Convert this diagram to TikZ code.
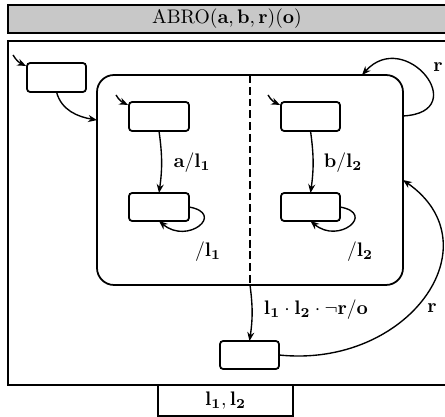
\documentclass[tikz,border=0pt]{standalone}
\usetikzlibrary{fit,arrows.meta}
\definecolor{titlegray}{RGB}{200,200,200}
\begin{document}
\begin{tikzpicture}[x=0.51pt,y=0.51pt,
  box/.style={draw, line width=0.9pt, inner sep=0pt, outer sep=0pt},
  st/.style={box, rounded corners=1.6pt},
  tr/.style={draw, line width=0.7pt, -{Stealth[length=4.5pt,width=3.6pt]}},
  lbl/.style={inner sep=0pt}]
\useasboundingbox (0,0) rectangle (445,417);
% frames
\node[box, fill=titlegray, fit={(8,384) (447,412)}] (title) {};
\node[lbl] (titletext) at (227,398) {$\mathrm{ABRO}(\mathbf{a},\mathbf{b},\mathbf{r})(\mathbf{o})$};
\node[box, fit={(8,32) (447,376)}] (frame) {};
\node[box, fit={(158,1) (293,32)}] (out) {};
\node[lbl] (outtext) at (out.center) {$\mathbf{l_1},\mathbf{l_2}$};
% states
\node[st, fit={(27,325) (86,354)}] (init) {};
\node[box, rounded corners=8.7pt, fit={(97,132) (403,342)}] (big) {};
\node[st, fit={(129,286) (189,315)}] (a1) {};
\node[st, fit={(129,196) (189,224)}] (a2) {};
\node[st, fit={(281,286) (340,315)}] (b1) {};
\node[st, fit={(281,196) (340,224)}] (b2) {};
\node[st, fit={(220,48) (279,76)}] (fin) {};
% dashed separator
\draw[line width=0.9pt, dash pattern=on 4pt off 2pt] (big.north) -- (big.south);
% initial arrows
\coordinate (i0) at (13,362);
\coordinate (ia) at (116,322);
\coordinate (ib) at (268,322);
\draw[tr] (i0) to[out=-60,in=155] ([xshift=-0.5pt,yshift=-1.5pt]init.north west);
\draw[tr] (ia) to[out=-60,in=155] ([xshift=-0.5pt,yshift=-1.5pt]a1.north west);
\draw[tr] (ib) to[out=-60,in=155] ([xshift=-0.5pt,yshift=-1.5pt]b1.north west);
% transitions
\draw[tr] (init.south) to[out=-75,in=170] ([yshift=-23pt]big.north west);
\draw[tr] (a1.south) to[bend left=8] (a2.north);
\draw[tr] (b1.south) to[bend left=8] (b2.north);
\draw[tr] (a2.east) to[out=-10,in=-40,looseness=2.9] (a2.south);
\draw[tr] (b2.east) to[out=-10,in=-40,looseness=2.9] (b2.south);
\draw[tr] (big.south) to[bend left=8] (fin.north);
\draw[tr] ([yshift=-20.9pt]big.north east) to[out=3,in=48,out distance=36pt,in distance=33pt] ([xshift=-20.9pt]big.north east);
\draw[tr] (fin.east) to[out=-6,in=-35,out distance=66pt,in distance=58pt] (big.east);
% labels
\node[lbl] (la) at (192,254) {$\mathbf{a}/\mathbf{l_1}$};
\node[lbl] (lb) at (343,254) {$\mathbf{b}/\mathbf{l_2}$};
\node[lbl] (la2) at (208,165) {$/\mathbf{l_1}$};
\node[lbl] (lb2) at (360,165) {$/\mathbf{l_2}$};
\node[lbl] (lr1) at (438,350) {$\mathbf{r}$};
\node[lbl] (lr2) at (432,109) {$\mathbf{r}$};
\node[lbl] (lo) at (316,107) {$\mathbf{l_1}\cdot\mathbf{l_2}\cdot\neg\mathbf{r}/\mathbf{o}$};
\end{tikzpicture}
\end{document}
